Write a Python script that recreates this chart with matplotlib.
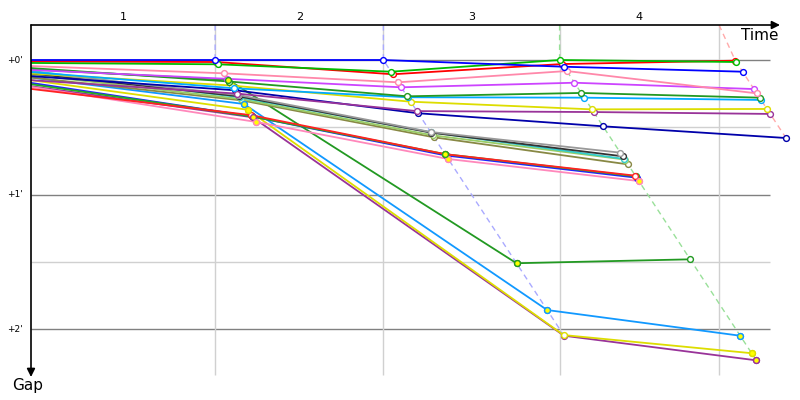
import matplotlib.pyplot as plt

# lap crossing time of the leader (minutes) and position of the lap marks
leader_times = [2.09, 4.00, 6.00, 7.99]
lap_marks = [2.09, 4.00, 6.00, 7.81]
lap_labels = ["1", "2", "3", "4"]
gap_ticks = [0, 1, 2]
gap_tick_labels = ["+0'", "+1'", "+2'"]

# gap to the leader (minutes) at start, lap 1, lap 2, ...
driver_colors = [
    "#0000ff", "#00bb00", "#ff0000", "#ff88aa", "#cc44ff", "#229922",
    "#00aaff", "#dddd00", "#993399", "#0000aa",
    "#999999", "#333333", "#33cccc", "#99cc66", "#888844",
    "#ff2222", "#22aa22", "#2222ff", "#ff88bb",
    "#229922", "#1199ff", "#dddd00", "#993399",
]
driver_gaps = [
    [0.00, 0.000, 0.000, 0.050, 0.087],
    [0.022, 0.032, 0.087, 0.000, 0.015],
    [0.011, 0.015, 0.106, 0.030, 0.005],
    [0.045, 0.099, 0.166, 0.082, 0.248],
    [0.074, 0.140, 0.203, 0.169, 0.216],
    [0.060, 0.160, 0.270, 0.245, 0.280],
    [0.090, 0.210, 0.277, 0.280, 0.297],
    [0.100, 0.190, 0.310, 0.367, 0.364],
    [0.150, 0.250, 0.380, 0.387, 0.401],
    [0.120, 0.225, 0.396, 0.493, 0.580],
    [0.090, 0.260, 0.535, 0.689],
    [0.100, 0.270, 0.540, 0.716],
    [0.080, 0.277, 0.537, 0.736],
    [0.110, 0.290, 0.560, 0.740],
    [0.130, 0.300, 0.575, 0.776],
    [0.215, 0.410, 0.700, 0.860],
    [0.180, 0.420, 0.700, 0.865],
    [0.170, 0.420, 0.710, 0.875],
    [0.200, 0.460, 0.736, 0.900],
    [0.070, 0.147, 1.511, 1.482],
    [0.130, 0.327, 1.859, 2.050],
    [0.150, 0.370, 2.045, 2.180],
    [0.195, 0.426, 2.050, 2.233],
]
# (driver, lap) points drawn with a yellow marker
yellow_marks = [(19, 1), (19, 2), (20, 1), (20, 2), (20, 3), (21, 1), (21, 3),
                (22, 1), (22, 3), (18, 1), (18, 2), (18, 3), (16, 2)]

lap_line_colors = ["#aaaaff", "#aaaaff", "#99e099", "#ffaaaa"]

px_x = 88.1   # pixels per minute along time
px_y = 134.5  # pixels per minute along gap
x0, x1 = 31, 790
y0, y1 = 25, 378
top = (y0 - 60) / px_y
bottom = (y1 - 60) / px_y

fig = plt.figure(figsize=(8, 4), dpi=100)
ax = fig.add_axes([x0 / 800, 1 - y1 / 400, (x1 - x0) / 800, (y1 - y0) / 400])
ax.set_xlim(0, (x1 - x0) / px_x)
ax.set_ylim(bottom, top)
ax.axis("off")

t_grid_end = (770 - x0) / px_x
g_grid_end = (375 - 60) / px_y

# grid
for g in [0.5, 1.5]:
    ax.hlines(g, 0, t_grid_end, color="#d0d0d0", lw=1, zorder=0)
for g in gap_ticks:
    ax.hlines(g, 0, t_grid_end, color="#808080", lw=1, zorder=0)
ax.vlines(lap_marks, top, g_grid_end, color="#d0d0d0", lw=1, zorder=0)


def lap_points(i):
    g = driver_gaps[i]
    t = [0] + [leader_times[k] + g[k + 1] for k in range(len(g) - 1)]
    return t, g


# dashed lap lines through every car's crossing
for k in range(len(leader_times)):
    pts = []
    for i in range(len(driver_gaps)):
        t, g = lap_points(i)
        if len(g) > k + 1:
            pts.append((t[k + 1], g[k + 1]))
    pts.sort(key=lambda p: p[1])
    xs = [lap_marks[k]] + [p[0] for p in pts]
    ys = [top] + [p[1] for p in pts]
    ax.plot(xs, ys, color=lap_line_colors[k], lw=1, ls=(0, (4, 3)), zorder=1)

# drivers
for i in reversed(range(len(driver_gaps))):
    t, g = lap_points(i)
    c = driver_colors[i]
    ax.plot(t, g, color=c, lw=1.3, zorder=2 + (len(driver_gaps) - i) * 0.01)
    ax.plot(t[1:], g[1:], ls="none", marker="o", ms=4.2, mfc="white",
            mec=c, mew=1, zorder=2 + (len(driver_gaps) - i) * 0.01)

for i, k in yellow_marks:
    t, g = lap_points(i)
    ax.plot(t[k], g[k], marker="o", ms=4.2, mfc="#ffff00",
            mec=driver_colors[i], mew=1, zorder=3)

# axes arrows
ax.annotate("", xy=((780 - x0) / px_x, top), xytext=(0, top),
            arrowprops=dict(arrowstyle="-|>", color="black", lw=1.2,
                            mutation_scale=12, shrinkA=0, shrinkB=0),
            annotation_clip=False, zorder=5)
ax.annotate("", xy=(0, (377 - 60) / px_y), xytext=(0, top),
            arrowprops=dict(arrowstyle="-|>", color="black", lw=1.2,
                            mutation_scale=12, shrinkA=0, shrinkB=0),
            annotation_clip=False, zorder=5)

ax.text((778 - x0) / px_x, (35 - 60) / px_y, "Time", ha="right", va="center",
        fontsize=11, clip_on=False)
ax.text((12 - x0) / px_x, (386 - 60) / px_y, "Gap", ha="left", va="center",
        fontsize=11, clip_on=False)

for g, lab in zip(gap_ticks, gap_tick_labels):
    ax.text((23 - x0) / px_x, g, lab, ha="right", va="center", fontsize=6.5,
            clip_on=False)

edges = [0] + lap_marks
for k, lab in enumerate(lap_labels):
    ax.text((edges[k] + edges[k + 1]) / 2, (17 - 60) / px_y, lab,
            ha="center", va="center", fontsize=8, clip_on=False)

plt.savefig("out.png", dpi=100)
